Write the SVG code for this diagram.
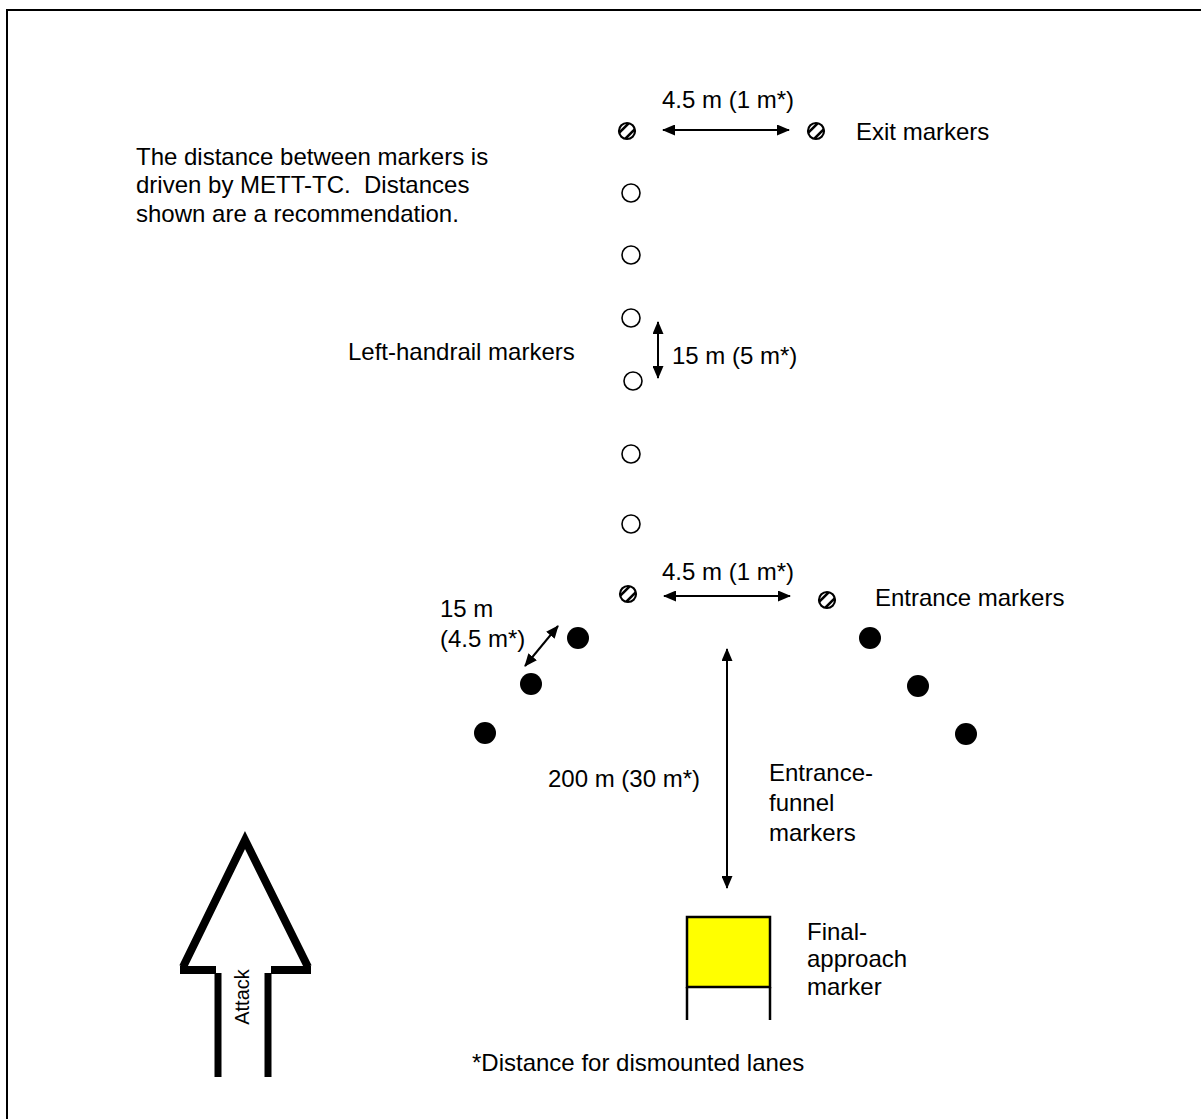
<svg xmlns="http://www.w3.org/2000/svg" width="1201" height="1119" viewBox="0 0 1201 1119">
<style>
text{font-family:"Liberation Sans",Arial,sans-serif;font-size:24px;fill:#000;white-space:pre}
.open{fill:#fff;stroke:#000;stroke-width:1.6}
.dot{fill:#000}
.conn{stroke:#000;stroke-width:2;fill:none}
</style>
<defs>
<marker id="ah" viewBox="0 0 13 11" refX="12" refY="5.5" markerWidth="13" markerHeight="11" markerUnits="userSpaceOnUse" orient="auto-start-reverse">
<path d="M0,0 L13,5.5 L0,11 Z" fill="#000"/>
</marker>
<clipPath id="hc"><circle cx="0" cy="0" r="8.5"/></clipPath>
<g id="hm">
<circle cx="0" cy="0" r="8.5" fill="#fff"/>
<g clip-path="url(#hc)" stroke="#000" stroke-width="2.6">
<line x1="-14.2" y1="8.2" x2="8.2" y2="-14.2"/>
<line x1="-8.2" y1="14.2" x2="14.2" y2="-8.2"/>
</g>
<circle cx="0" cy="0" r="8" fill="none" stroke="#000" stroke-width="2.2"/>
</g>
</defs>
<rect width="1201" height="1119" fill="#fff"/>
<path d="M7,1119 V10 H1201" fill="none" stroke="#000" stroke-width="2"/>

<g id="note">
<text x="136" y="165">The distance between markers is</text>
<text x="136" y="193" xml:space="preserve">driven by METT-TC.  Distances</text>
<text x="136" y="222">shown are a recommendation.</text>
</g>

<g id="exit-markers">
<use href="#hm" x="627" y="131"/>
<use href="#hm" x="816" y="131"/>
<text x="662" y="108">4.5 m (1 m*)</text>
<text x="856" y="140">Exit markers</text>
</g>

<g id="left-handrail-markers">
<circle class="open" cx="631" cy="193" r="9"/>
<circle class="open" cx="631" cy="255" r="9"/>
<circle class="open" cx="631" cy="318" r="9"/>
<circle class="open" cx="633" cy="381" r="9"/>
<circle class="open" cx="631" cy="454" r="9"/>
<circle class="open" cx="631" cy="524" r="9"/>
<text x="348" y="360">Left-handrail markers</text>
<text x="672" y="364">15 m (5 m*)</text>
</g>

<g id="entrance-markers">
<use href="#hm" x="628" y="594"/>
<use href="#hm" x="827" y="600"/>
<text x="662" y="580">4.5 m (1 m*)</text>
<text x="875" y="606">Entrance markers</text>
</g>

<g id="entrance-funnel-markers">
<circle class="dot" cx="578" cy="638" r="11"/>
<circle class="dot" cx="531" cy="684" r="11"/>
<circle class="dot" cx="485" cy="733" r="11"/>
<circle class="dot" cx="870" cy="638" r="11"/>
<circle class="dot" cx="918" cy="686" r="11"/>
<circle class="dot" cx="966" cy="734" r="11"/>
<text x="440" y="617">15 m</text>
<text x="440" y="647">(4.5 m*)</text>
<text x="769" y="781">Entrance-</text>
<text x="769" y="811">funnel</text>
<text x="769" y="841">markers</text>
<text x="548" y="787">200 m (30 m*)</text>
</g>

<g id="final-approach-marker">
<rect x="687" y="917" width="83" height="70" fill="#ffff00" stroke="#000" stroke-width="2.5"/>
<line x1="687" y1="987" x2="687" y2="1020" stroke="#000" stroke-width="2.5"/>
<line x1="770" y1="987" x2="770" y2="1020" stroke="#000" stroke-width="2.5"/>
<text x="807" y="940">Final-</text>
<text x="807" y="967">approach</text>
<text x="807" y="995">marker</text>
</g>

<g id="attack-arrow" fill="none" stroke="#000" stroke-width="8">
<path d="M183,967 L245,840 L308,967" stroke-linejoin="miter"/>
<line x1="180" y1="970" x2="216" y2="970"/>
<line x1="271" y1="970" x2="311" y2="970"/>
<line x1="218" y1="973" x2="218" y2="1077" stroke-width="7"/>
<line x1="268" y1="973" x2="268" y2="1077" stroke-width="7"/>
<text x="0" y="0" transform="translate(249,997) rotate(-90)" text-anchor="middle" stroke="none" style="font-size:20px">Attack</text>
</g>

<text x="472" y="1071">*Distance for dismounted lanes</text>

<g id="connectors">
<line class="conn" x1="663" y1="130" x2="789" y2="130" marker-start="url(#ah)" marker-end="url(#ah)"/>
<line class="conn" x1="658" y1="322" x2="658" y2="378" marker-start="url(#ah)" marker-end="url(#ah)"/>
<line class="conn" x1="664" y1="596" x2="790" y2="596" marker-start="url(#ah)" marker-end="url(#ah)"/>
<line class="conn" x1="558" y1="626" x2="525" y2="666" marker-start="url(#ah)" marker-end="url(#ah)"/>
<line class="conn" x1="727" y1="649" x2="727" y2="888" marker-start="url(#ah)" marker-end="url(#ah)"/>
</g>
</svg>
